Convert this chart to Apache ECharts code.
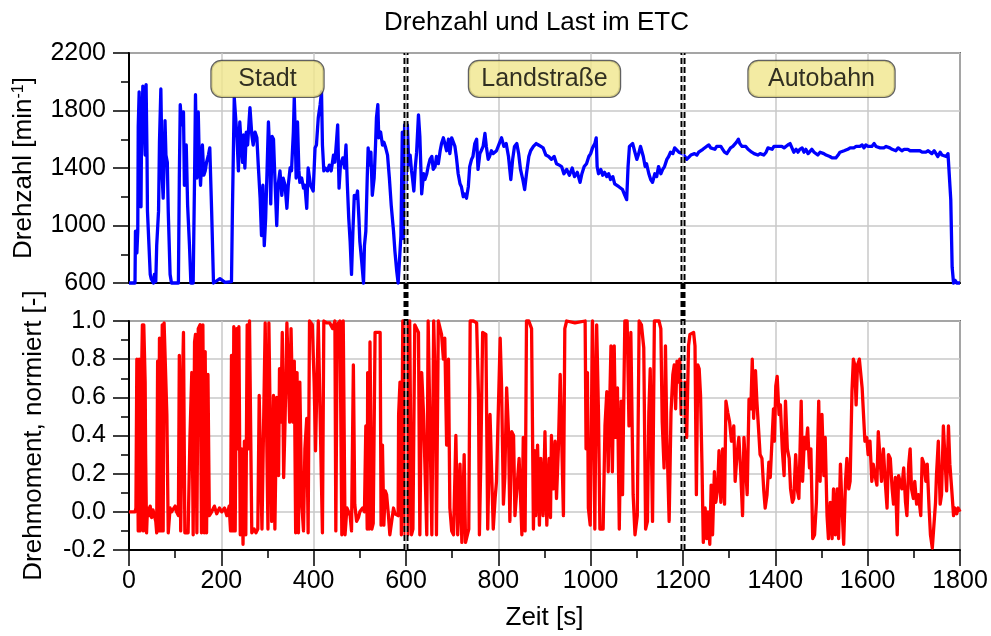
<!DOCTYPE html>
<html>
<head>
<meta charset="utf-8">
<title>Drehzahl und Last im ETC</title>
<script src="https://cdn.jsdelivr.net/npm/echarts@6/dist/echarts.min.js"></script>
<style>
  html, body { margin: 0; padding: 0; background: #fff; }
  #chart { width: 991px; height: 636px; }
</style>
</head>
<body>
<div id="chart"></div>
<script>
// Zeit [s] und Drehzahl [1/min], je Fahrabschnitt
const drehzahlStadt = [[0,600],[13,600],[14,960],[17,810],[19,960],[20,1690],[22,1930],[25,1490],[26,1130],[27,1560],[30,1970],[32,1980],[35,1490],[37,1980],[39,1490],[40,1100],[46,660],[48,630],[53,600],[55,660],[58,610],[60,860],[64,1100],[66,1580],[69,1950],[72,1330],[74,1190],[77,1510],[78,1730],[80,1490],[83,1440],[85,1100],[89,660],[92,600],[107,600],[109,1330],[111,1840],[114,1700],[118,1790],[120,1280],[124,1560],[127,1140],[131,860],[134,600],[139,600],[142,1330],[144,1910],[147,1330],[150,1790],[152,1490],[155,1280],[159,1560],[162,1350],[165,1380],[168,1440],[172,1490],[175,1540],[179,1100],[183,600],[197,630],[208,605],[222,610],[224,1100],[228,1890],[231,1750],[234,1610],[237,1380],[240,1720],[243,1560],[246,1440],[248,1630],[251,1400],[254,1650],[257,1560],[260,1720],[262,1820],[266,1630],[269,1560],[273,1650],[277,1610],[280,1420],[284,1190],[287,930],[290,1280],[293,860],[296,1050],[299,1380],[302,1720],[305,1500],[307,1150],[310,1620],[313,1600],[316,1330],[320,1000],[323,1280],[327,1380],[331,1210],[334,1330],[338,1280],[342,1120],[345,1280],[349,1400],[352,1380],[356,1650],[358,1890],[360,1650],[362,1330],[365,1720],[368,1380],[370,1300],[374,1330],[378,1260],[381,1280],[385,1120],[388,1400],[391,1330],[393,1280],[396,1260],[399,1240],[403,1540],[406,1560],[410,1750],[414,1840],[417,1930],[419,1560],[422,1380],[425,1400],[430,1380],[434,1420],[438,1380],[443,1490],[446,1440],[450,1610],[452,1700],[455,1260],[458,1420],[463,1470],[467,1400],[470,1560],[473,1280],[476,1050],[479,890],[482,660],[485,960],[488,1210],[492,1190],[495,1240],[498,1050],[500,890],[504,750],[508,600],[510,860],[513,960],[516,1330],[518,1540],[521,1420],[524,1510],[527,1210],[531,1330],[534,1560],[536,1750],[539,1840],[541,1610],[545,1650],[549,1560],[552,1580],[556,1540],[560,1490],[564,1330],[568,1140],[573,960],[576,820],[580,680],[583,600],[586,600],[589,930],[592,1650],[594,910],[597,1700]];
const drehzahlLand = [[600,1280],[603,1700],[606,1420],[609,1490],[612,1380],[614,1330],[617,1240],[620,1400],[623,1510],[627,1770],[630,1620],[634,1220],[638,1360],[641,1320],[645,1360],[648,1410],[652,1460],[656,1480],[659,1390],[663,1410],[666,1480],[670,1430],[674,1520],[677,1570],[681,1610],[684,1620],[688,1520],[692,1600],[695,1500],[699,1610],[702,1600],[706,1550],[709,1480],[713,1360],[717,1290],[720,1270],[724,1200],[727,1220],[731,1190],[735,1270],[738,1410],[742,1460],[745,1480],[749,1570],[753,1600],[756,1390],[760,1500],[763,1520],[767,1550],[771,1640],[774,1550],[778,1460],[781,1480],[785,1520],[789,1500],[796,1520],[802,1570],[807,1610],[812,1550],[817,1570],[822,1480],[827,1320],[831,1460],[835,1550],[840,1570],[844,1500],[848,1390],[853,1320],[857,1250],[861,1360],[866,1480],[870,1520],[876,1550],[882,1570],[887,1560],[892,1550],[897,1540],[903,1490],[909,1480],[915,1460],[921,1480],[926,1430],[932,1420],[937,1410],[942,1360],[948,1390],[954,1350],[960,1400],[965,1340],[971,1370],[977,1300],[981,1360],[986,1410],[991,1430],[996,1480],[1000,1500],[1004,1540],[1009,1570],[1012,1610],[1014,1410],[1017,1360],[1022,1390],[1026,1350],[1030,1370],[1035,1340],[1039,1360],[1043,1320],[1048,1340],[1052,1290],[1056,1300],[1061,1270],[1065,1280],[1069,1250],[1074,1210],[1078,1180],[1081,1410],[1084,1550],[1087,1560],[1091,1570],[1095,1520],[1100,1460],[1104,1500],[1108,1550],[1111,1560],[1114,1480],[1118,1410],[1121,1430],[1126,1360],[1130,1320],[1134,1300],[1139,1360],[1143,1340],[1147,1410],[1152,1360],[1156,1390],[1160,1410],[1165,1460],[1169,1480],[1173,1510],[1178,1500],[1182,1540],[1186,1550],[1191,1510],[1195,1520],[1199,1500]];
const drehzahlAutobahn = [[1204,1480],[1208,1460],[1212,1470],[1217,1490],[1221,1480],[1225,1500],[1230,1490],[1234,1510],[1238,1500],[1243,1530],[1247,1540],[1251,1550],[1256,1560],[1260,1540],[1264,1550],[1269,1530],[1273,1550],[1277,1560],[1282,1550],[1286,1530],[1290,1510],[1295,1500],[1299,1490],[1303,1540],[1308,1550],[1312,1560],[1316,1580],[1320,1600],[1323,1570],[1328,1550],[1332,1540],[1336,1550],[1341,1530],[1345,1540],[1349,1510],[1354,1500],[1358,1510],[1362,1490],[1367,1500],[1371,1510],[1375,1490],[1380,1510],[1384,1540],[1388,1550],[1393,1530],[1397,1550],[1401,1540],[1406,1550],[1410,1540],[1414,1550],[1419,1540],[1423,1550],[1427,1560],[1432,1570],[1436,1540],[1440,1510],[1445,1530],[1449,1510],[1453,1530],[1458,1540],[1462,1510],[1466,1530],[1471,1500],[1475,1510],[1479,1530],[1484,1510],[1488,1500],[1492,1490],[1497,1510],[1501,1500],[1505,1500],[1510,1490],[1514,1500],[1518,1480],[1523,1470],[1527,1480],[1531,1470],[1536,1490],[1540,1510],[1544,1510],[1549,1520],[1553,1510],[1557,1530],[1562,1540],[1566,1530],[1570,1540],[1575,1550],[1579,1560],[1583,1550],[1588,1560],[1592,1540],[1596,1560],[1601,1550],[1605,1560],[1609,1550],[1614,1570],[1618,1550],[1622,1560],[1627,1540],[1631,1550],[1635,1540],[1640,1550],[1644,1540],[1648,1540],[1653,1530],[1657,1540],[1661,1520],[1666,1540],[1670,1530],[1674,1520],[1679,1530],[1683,1520],[1687,1530],[1692,1520],[1696,1530],[1700,1520],[1705,1520],[1709,1510],[1713,1520],[1718,1510],[1722,1520],[1726,1510],[1731,1520],[1735,1510],[1739,1500],[1744,1520],[1748,1500],[1752,1480],[1757,1510],[1761,1490],[1765,1500],[1770,1480],[1774,1500],[1778,1510],[1780,1180],[1783,710],[1786,600],[1789,620],[1793,600],[1800,600]];

// Zeit [s] und normiertes Drehmoment [-], je Fahrabschnitt
const momentStadt = [[0,0],[13,0],[15,0.02],[17,0.8],[19,0.8],[20,-0.1],[22,0.8],[24,-0.1],[27,0.68],[29,0.98],[31,-0.1],[32,0.98],[35,0.68],[36,0.3],[38,-0.11],[40,0.02],[43,-0.02],[46,0.03],[49,-0.03],[52,0.01],[55,-0.02],[58,-0.05],[60,-0.11],[62,0.79],[64,-0.1],[66,0.91],[69,-0.1],[72,0.98],[74,-0.1],[76,0.99],[79,1.0],[82,0.51],[85,-0.11],[89,0.02],[92,0],[96,0.01],[100,0.03],[103,0],[107,-0.02],[109,0.82],[110,0.82],[112,-0.1],[116,0.7],[118,0.94],[121,-0.11],[125,-0.1],[128,-0.11],[132,0.39],[136,0.73],[139,-0.12],[142,0.89],[144,0.93],[147,-0.11],[150,0.96],[154,0.98],[157,-0.11],[160,0.98],[163,-0.11],[165,0.84],[168,-0.11],[171,0.72],[174,-0.02],[179,0],[185,0.03],[190,-0.01],[196,0.02],[201,0],[207,0.02],[212,-0.02],[217,0.03],[220,-0.1],[222,0.82],[225,-0.1],[227,0.97],[230,-0.1],[233,0.96],[235,0.33],[238,0.97],[241,-0.12],[244,0.33],[247,-0.17],[250,0.37],[253,-0.12],[256,0.98],[259,0.33],[261,1.0],[264,1.0],[266,-0.11],[271,-0.09],[275,-0.11],[279,-0.09],[282,0.61],[285,0.61],[288,-0.09],[292,-0.09],[295,0.99],[298,0.99],[301,-0.09],[303,0.99],[306,0.45],[309,-0.05],[313,0.61],[316,-0.09],[320,0.6],[324,0.19],[326,0.75],[329,0.47],[332,0.94],[335,0.18],[338,0.47],[342,0.99],[345,0.99],[348,0.47],[351,0.96],[355,0.47],[358,0.79],[361,-0.11],[364,0.73],[367,-0.11],[370,0.68],[374,0.05],[378,-0.1],[381,0.33],[385,0.49],[388,-0.11],[391,1.0],[394,1.0],[397,0.98],[401,0.68],[404,0.32],[407,0.32],[410,1.0],[414,1.0],[419,-0.11],[422,1.0],[428,0.99],[435,0.99],[441,0.96],[446,1.0],[448,-0.1],[451,0.98],[457,1.0],[461,-0.12],[464,1.0],[468,-0.12],[472,0.02],[475,0.01],[479,-0.02],[482,-0.1],[486,0.77],[489,0.04],[493,-0.05],[497,-0.03],[500,0],[506,0.02],[510,0],[513,0.45],[516,-0.09],[517,0.73],[520,-0.09],[522,0.89],[526,-0.09],[529,-0.06],[533,0.94],[538,0.94],[544,0.94],[546,-0.07],[549,0.35],[552,-0.07],[555,0.11],[558,0.09],[562,-0.02],[565,-0.12],[569,-0.05],[573,0.02],[576,-0.01],[580,0],[583,-0.02],[584,0.51],[587,0.68],[590,-0.12],[593,1.0],[596,1.0],[598,-0.12]];
const momentLand = [[601,1.0],[604,-0.12],[608,1.0],[612,-0.12],[615,-0.09],[619,0.98],[623,0.96],[627,0.94],[630,-0.12],[634,0.73],[638,0.51],[641,0.51],[645,-0.12],[648,1.0],[652,1.0],[656,-0.12],[660,1.0],[664,0.59],[666,-0.12],[670,1.0],[674,0.96],[677,0.93],[681,0.8],[684,0.91],[688,0.35],[692,0.8],[695,0.02],[699,-0.1],[703,-0.12],[708,0.4],[712,-0.12],[717,0.25],[721,-0.16],[726,0.3],[729,-0.16],[733,-0.17],[736,-0.09],[739,1.0],[746,1.0],[753,0.99],[757,0.61],[759,-0.12],[762,0.26],[766,0.94],[770,0.93],[773,0.93],[777,-0.09],[782,0.51],[786,0.51],[789,-0.09],[793,0.07],[796,0.16],[800,0.16],[804,0.91],[807,0.66],[811,0.04],[814,0.18],[818,0.65],[822,0.42],[825,-0.05],[829,0.42],[833,0.4],[836,-0.02],[840,-0.02],[845,0.28],[851,-0.12],[854,0.39],[858,-0.1],[861,1.0],[866,1.0],[872,0.96],[876,-0.09],[879,0.32],[881,-0.02],[885,0.35],[889,-0.07],[892,0.28],[897,-0.02],[901,0.42],[905,-0.07],[910,0.28],[913,-0.03],[915,0.4],[919,0.12],[923,0.37],[926,0.07],[930,0.33],[934,0.72],[937,0.73],[941,-0.02],[944,0.96],[948,1.0],[966,0.99],[988,1.0],[990,0.33],[993,0.73],[995,0.02],[999,-0.07],[1004,1.0],[1007,0.51],[1009,-0.09],[1013,0.98],[1017,0.51],[1020,-0.09],[1024,-0.1],[1027,-0.09],[1031,0.45],[1035,0.63],[1038,0.21],[1044,0.87],[1047,0.21],[1051,0.87],[1054,0.39],[1058,0.65],[1062,-0.09],[1066,0.58],[1069,0.09],[1074,1.0],[1079,1.0],[1083,0.45],[1087,0.94],[1092,0.09],[1096,-0.12],[1101,-0.02],[1105,1.0],[1110,0.98],[1115,0.86],[1119,-0.09],[1123,-0.05],[1126,0.52],[1129,0.75],[1134,-0.05],[1138,1.0],[1142,1.0],[1148,1.0],[1152,0.96],[1155,0.47],[1159,0.23],[1162,0.87],[1165,0.4],[1170,-0.05],[1174,0.52],[1178,0.72],[1181,0.77],[1184,0.54],[1187,0.79],[1190,0.68],[1193,0.8],[1196,0.51],[1199,0.68]];
const momentAutobahn = [[1202,0.49],[1204,0.68],[1208,0.39],[1212,0.87],[1215,0.93],[1219,0.93],[1223,0.94],[1226,0.87],[1229,0.09],[1232,0.77],[1235,0.75],[1238,0.61],[1241,0.26],[1244,-0.16],[1248,0.02],[1251,-0.14],[1254,0],[1258,-0.17],[1261,0.14],[1264,-0.12],[1268,0.21],[1271,0.05],[1275,0.12],[1278,0.32],[1282,0.05],[1286,0.33],[1290,0.04],[1293,0.58],[1297,0.52],[1301,0.47],[1305,0.37],[1310,0.45],[1313,0.16],[1317,0.3],[1321,0.39],[1325,0.21],[1329,-0.02],[1332,0.39],[1336,0.39],[1339,0.09],[1343,0.59],[1347,0.54],[1350,0.8],[1353,0.49],[1357,0.74],[1360,0.58],[1364,0.42],[1367,0.3],[1371,0.28],[1375,0.11],[1378,0.02],[1382,0.09],[1386,0.26],[1389,0.18],[1393,0.19],[1396,0.54],[1398,0.37],[1401,0.66],[1404,0.71],[1408,0.51],[1411,0.56],[1415,0.33],[1419,0.19],[1422,0.58],[1426,0.33],[1430,0.28],[1433,0.12],[1437,0.05],[1440,0.07],[1444,0.3],[1448,0.11],[1451,0.07],[1456,0.58],[1459,0.16],[1463,0.39],[1466,0.33],[1470,0.44],[1474,0.23],[1477,0.33],[1481,-0.14],[1485,-0.12],[1489,0.05],[1494,0.58],[1497,0.16],[1501,0.51],[1505,0.19],[1508,0.39],[1512,-0.02],[1515,-0.14],[1519,0.05],[1523,-0.14],[1526,0.12],[1530,-0.12],[1534,0.12],[1537,-0.14],[1541,0.25],[1544,0.05],[1548,-0.17],[1552,0.16],[1555,0.28],[1559,0.12],[1562,0.16],[1566,0.63],[1569,0.8],[1572,0.77],[1575,0.56],[1578,0.77],[1582,0.8],[1585,0.8],[1588,0.65],[1591,0.65],[1594,0.37],[1598,0.39],[1601,0.3],[1605,0.37],[1609,0.16],[1612,0.25],[1616,0.19],[1620,0.14],[1623,0.42],[1627,0.42],[1630,0.16],[1634,0.33],[1638,0.16],[1642,0.02],[1645,0.3],[1649,0.28],[1653,0.12],[1656,0.04],[1660,0.18],[1664,-0.12],[1667,0.19],[1671,0.18],[1674,0.12],[1678,0.23],[1682,0.05],[1685,-0.02],[1689,0.25],[1692,0.33],[1695,0.12],[1699,0.07],[1702,0.16],[1706,0.04],[1710,0.09],[1715,-0.02],[1718,0.28],[1722,0.25],[1726,0.16],[1729,0.25],[1733,0.02],[1736,-0.12],[1740,-0.19],[1744,-0.19],[1747,0.05],[1749,0.19],[1753,0.37],[1757,0.04],[1760,0.09],[1764,0.45],[1767,0.45],[1771,0.11],[1775,0.45],[1778,0.25],[1782,0.12],[1786,-0.02],[1789,0.02],[1793,-0.01],[1796,0.02],[1800,0]];

// Fahrabschnitte des ETC und ihre Grenzen [s]
const phasen = ['Stadt', 'Landstraße', 'Autobahn'];
const phasenGrenzen = [0, 600, 1200, 1800];

// Achsen
const zeitMin = 0, zeitMax = 1800, zeitSchritt = 200;
const drehzahlMin = 600, drehzahlMax = 2200, drehzahlSchritt = 400;
const momentMin = -0.2, momentMax = 1.0, momentSchritt = 0.2;

// Darstellung
const FONT = '"Liberation Sans", Arial, Helvetica, sans-serif';
const GRID_COLOR = '#c8c8c8';
const boxBreite = [112, 151, 146];
const boxHoehe = 2020; // Drehzahlniveau der Abschnittsbeschriftung

const drehzahl = drehzahlStadt.concat(drehzahlLand, drehzahlAutobahn);
const drehmoment = momentStadt.concat(momentLand, momentAutobahn);
const innereGrenzen = phasenGrenzen.slice(1, -1);

const chart = echarts.init(document.getElementById('chart'), null, { renderer: 'canvas' });

// Ganzzahlige Beschriftung ohne Tausendertrennzeichen
const ganzzahl = v => String(Math.round(v));
const momentLabel = v => (Math.abs(v) < 1e-9 ? 0 : v).toFixed(1);

function valueAxisX(gridIndex, withLabels) {
  return {
    type: 'value', gridIndex, min: zeitMin, max: zeitMax, interval: zeitSchritt,
    axisLine: { show: true, onZero: false, lineStyle: { color: '#000', width: 2 } },
    axisTick: { show: withLabels, length: 16, lineStyle: { color: '#000', width: 1.5 } },
    minorTick: { show: withLabels, splitNumber: 2, length: 8, lineStyle: { color: '#000', width: 1.5 } },
    axisLabel: { show: withLabels, margin: 19, fontSize: 25, color: '#000', fontFamily: FONT, formatter: ganzzahl },
    splitLine: { show: true, lineStyle: { color: GRID_COLOR, width: 1.5 } },
    minorSplitLine: { show: false }
  };
}

function valueAxisY(gridIndex, min, max, interval, name, nameGap, formatter) {
  return {
    type: 'value', gridIndex, min, max, interval,
    name, nameLocation: 'middle', nameGap,
    nameTextStyle: {
      fontSize: 26, color: '#000', fontFamily: FONT,
      rich: { sup: { fontSize: 16, verticalAlign: 'top', color: '#000', fontFamily: FONT } }
    },
    axisLine: { show: true, onZero: false, lineStyle: { color: '#000', width: 2 } },
    axisTick: { show: true, length: 16, lineStyle: { color: '#000', width: 1.5 } },
    minorTick: { show: true, splitNumber: 2, length: 8, lineStyle: { color: '#000', width: 1.5 } },
    axisLabel: { margin: 23, fontSize: 25, color: '#000', fontFamily: FONT, formatter },
    splitLine: { show: true, lineStyle: { color: GRID_COLOR, width: 1.5 } }
  };
}

const series = [
  {
    name: 'Drehzahl', type: 'line', xAxisIndex: 0, yAxisIndex: 0,
    data: drehzahl, showSymbol: false, clip: false, z: 3,
    lineStyle: { color: '#0000ff', width: 3.3, join: 'round' }
  },
  {
    name: 'Drehmoment', type: 'line', xAxisIndex: 1, yAxisIndex: 1,
    data: drehmoment, showSymbol: false, clip: false, z: 3,
    lineStyle: { color: '#ff0000', width: 3.3, join: 'round' }
  },
  {
    name: 'Abschnitte', type: 'scatter', xAxisIndex: 0, yAxisIndex: 0,
    symbolSize: 1, itemStyle: { color: 'rgba(0,0,0,0)' }, z: 20, silent: true,
    data: phasen.map((p, i) => ({
      name: p,
      value: [(phasenGrenzen[i] + phasenGrenzen[i + 1]) / 2, boxHoehe],
      label: { width: boxBreite[i] }
    })),
    label: {
      show: true, position: 'inside', formatter: '{b}',
      fontSize: 25, color: '#000', fontFamily: FONT,
      backgroundColor: '#f0e68c', borderColor: '#3a3a3a', borderWidth: 1.2, borderRadius: 10,
      height: 36, lineHeight: 36, align: 'center', verticalAlign: 'middle', padding: 0
    }
  }
];

// Abschnittsgrenzen: durchgehend gestrichelt über beide Diagramme,
// innerhalb der Diagramme mit heller Mittellinie
innereGrenzen.forEach(g => {
  series.push({
    type: 'line', xAxisIndex: 2, yAxisIndex: 2, silent: true, z: 30,
    data: [[g, 0], [g, 1]], showSymbol: false, clip: false,
    lineStyle: { color: '#000', width: 5, type: [6, 3] }
  });
  series.push({
    type: 'line', xAxisIndex: 0, yAxisIndex: 0, silent: true, z: 31,
    data: [[g, drehzahlMin], [g, drehzahlMax]], showSymbol: false, clip: false,
    lineStyle: { color: '#fff', width: 1.1 }
  });
  series.push({
    type: 'line', xAxisIndex: 1, yAxisIndex: 1, silent: true, z: 31,
    data: [[g, momentMin], [g, momentMax]], showSymbol: false, clip: false,
    lineStyle: { color: '#fff', width: 1.1 }
  });
});

chart.setOption({
  animation: false,
  backgroundColor: '#fff',
  textStyle: { fontFamily: FONT },
  title: {
    text: 'Drehzahl und Last im ETC', left: 384, top: 10, padding: 0,
    textStyle: { fontSize: 26, fontWeight: 'normal', color: '#000', fontFamily: FONT }
  },
  grid: [
    { left: 129, top: 53, width: 831, height: 230, show: true, borderColor: '#000', borderWidth: 1.5 },
    { left: 129, top: 321, width: 831, height: 229, show: true, borderColor: '#000', borderWidth: 1.5 },
    { left: 129, top: 53, width: 831, height: 497 }
  ],
  xAxis: [
    valueAxisX(0, false),
    Object.assign(valueAxisX(1, true), {
      name: 'Zeit [s]', nameLocation: 'middle', nameGap: 55,
      nameTextStyle: { fontSize: 26, color: '#000', fontFamily: FONT }
    }),
    { type: 'value', gridIndex: 2, min: zeitMin, max: zeitMax, show: false }
  ],
  yAxis: [
    valueAxisY(0, drehzahlMin, drehzahlMax, drehzahlSchritt, 'Drehzahl [min{sup|-1}]', 92, ganzzahl),
    valueAxisY(1, momentMin, momentMax, momentSchritt, 'Drehmoment, normiert [-]', 82, momentLabel),
    { type: 'value', gridIndex: 2, min: 0, max: 1, show: false }
  ],
  series
});
</script>
</body>
</html>
